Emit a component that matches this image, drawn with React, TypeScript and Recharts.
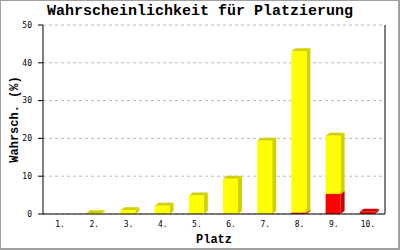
import React from "react";
import { BarChart, Bar, XAxis, YAxis, CartesianGrid, Label } from "recharts";

const categories = ["1.", "2.", "3.", "4.", "5.", "6.", "7.", "8.", "9.", "10."];
const redValues = [0, 0, 0, 0, 0, 0, 0, 0.35, 5.3, 0.6];
const yellowValues = [0, 0.2, 1.0, 2.2, 4.9, 9.3, 19.4, 42.7, 15.4, 0];
const yTicks = [0, 10, 20, 30, 40, 50];

const data = categories.map((c, i) => ({ name: c, red: redValues[i], yellow: yellowValues[i] }));

const DX = 4;
const DY = 3;

const make3D = (front: string, dark: string) => (props: any) => {
  const { x, y, width, height } = props;
  if (!height || height <= 0 || !isFinite(height)) return null;
  const fx = x - 1;
  const w = width;
  const top = `M${fx},${y} L${fx + DX},${y - DY} L${fx + w + DX},${y - DY} L${fx + w},${y} Z`;
  const side = `M${fx + w},${y} L${fx + w + DX},${y - DY} L${fx + w + DX},${y + height - DY} L${fx + w},${y + height} Z`;
  return (
    <g>
      <path d={top} fill={dark} />
      <path d={side} fill={dark} />
      <rect x={fx} y={y} width={w} height={height} fill={front} />
    </g>
  );
};

const RedShape = make3D("#ff0000", "#cc0000");
const YellowShape = make3D("#ffff00", "#d4d000");

export default function App() {
  return (
    <div style={{ position: "absolute", left: 0, top: 0, width: 400, height: 250, background: "#fff" }}>
      <BarChart
        width={400}
        height={250}
        data={data}
        margin={{ top: 25, right: 14, bottom: 0, left: 0 }}
        barCategoryGap={0}
      >
        <CartesianGrid vertical={false} stroke="#bbbbbb" strokeDasharray="3 3" />
        <XAxis
          dataKey="name"
          height={36}
          axisLine={{ stroke: "#000" }}
          tickLine={false}
          tickSize={5}
          tickMargin={2}
          tick={{ fontSize: 8, fill: "#000", fontFamily: "DejaVu Sans Mono" }}
          interval={0}
        >
          <Label
            value="Platz"
            position="center"
            dy={7}
            style={{ fontSize: 12, fontWeight: "bold", fontFamily: "Liberation Mono", fill: "#000" }}
          />
        </XAxis>
        <YAxis
          width={43}
          domain={[0, 50]}
          ticks={yTicks}
          axisLine={{ stroke: "#000" }}
          tickLine={{ stroke: "#000" }}
          tickSize={5}
          tickMargin={6}
          tick={{ fontSize: 8, fill: "#000", fontFamily: "DejaVu Sans Mono" }}
        >
          <Label
            value="Wahrsch. (%)"
            angle={-90}
            position="center"
            dx={-8}
            style={{ fontSize: 12, fontWeight: "bold", fontFamily: "Liberation Mono", fill: "#000", textAnchor: "middle" }}
          />
        </YAxis>
        <YAxis
          yAxisId="right"
          orientation="right"
          width={1}
          domain={[0, 50]}
          tick={false}
          tickLine={false}
          axisLine={{ stroke: "#000" }}
        />
        <Bar dataKey="red" stackId="a" barSize={15} fill="#ff0000" shape={RedShape} isAnimationActive={false} />
        <Bar dataKey="yellow" stackId="a" barSize={15} fill="#ffff00" shape={YellowShape} isAnimationActive={false} />
      </BarChart>
      <div
        style={{
          position: "absolute",
          left: 0,
          top: 2,
          width: 400,
          textAlign: "center",
          fontFamily: "Liberation Mono",
          fontWeight: "bold",
          fontSize: 15,
          lineHeight: "20px",
          color: "#000",
        }}
      >
        Wahrscheinlichkeit für Platzierung
      </div>
      <div
        style={{
          position: "absolute",
          left: 0,
          top: 0,
          width: 400,
          height: 250,
          boxSizing: "border-box",
          borderLeft: "1px solid #a0a0a0",
          borderTop: "1px solid #a0a0a0",
          borderRight: "2px solid #a0a0a0",
          borderBottom: "2px solid #a0a0a0",
          pointerEvents: "none",
        }}
      />
    </div>
  );
}
